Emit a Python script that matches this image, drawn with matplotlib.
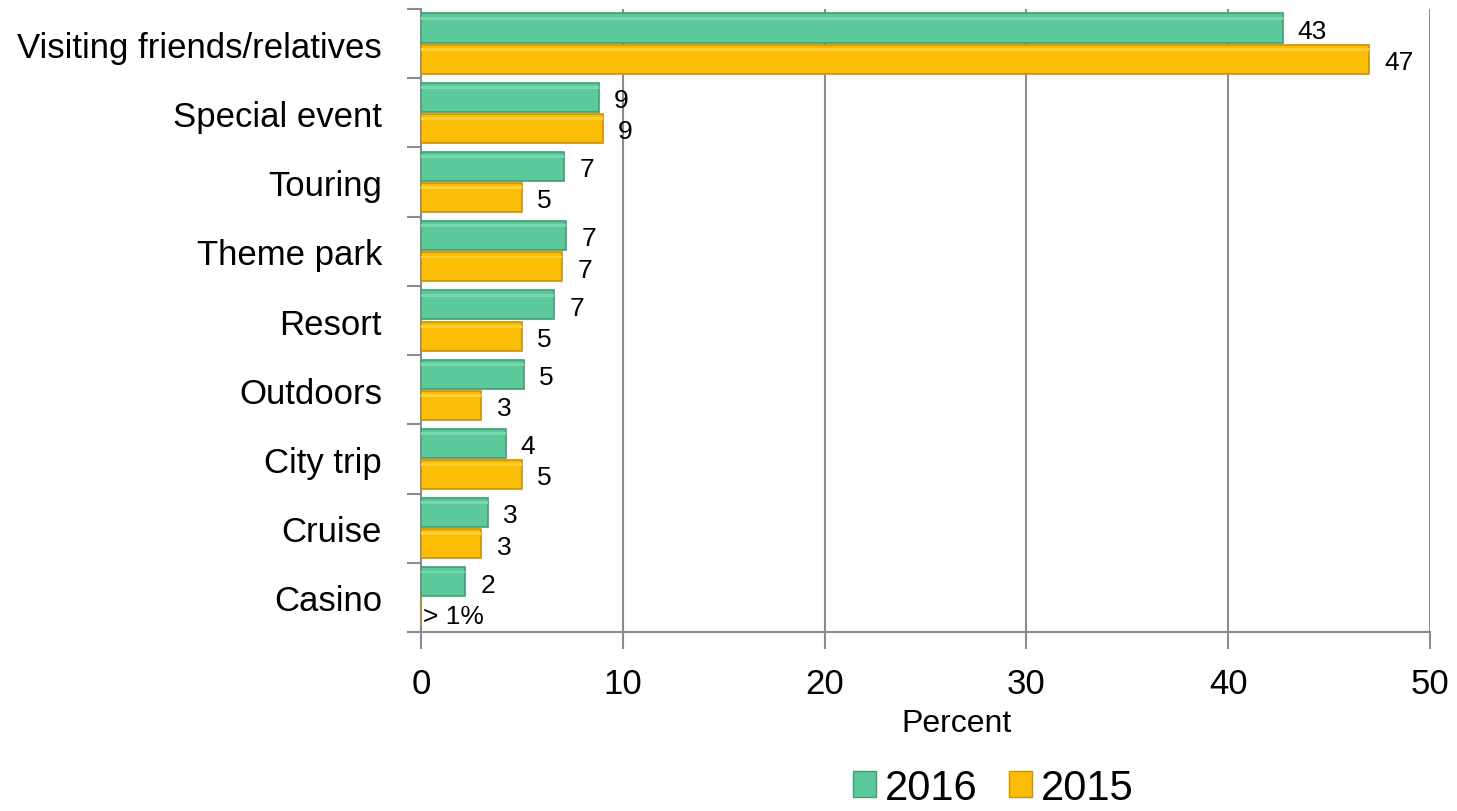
import numpy as np
import matplotlib
matplotlib.use("Agg")
import matplotlib.pyplot as plt
from matplotlib.patches import Patch

categories = ["Visiting friends/relatives", "Special event", "Touring", "Theme park",
              "Resort", "Outdoors", "City trip", "Cruise", "Casino"]
vals_2016 = [42.7, 8.8, 7.1, 7.2, 6.6, 5.1, 4.2, 3.3, 2.2]
vals_2015 = [47.0, 9.0, 5.0, 7.0, 5.0, 3.0, 5.0, 3.0, 0.0]
labels_2015 = [None] * 8 + ["> 1%"]   # casino share too small to show
xticks = [0, 10, 20, 30, 40, 50]

GREEN, GREEN_EDGE = "#5cc99a", "#3f9e74"
YELLOW, YELLOW_EDGE = "#fcbd07", "#c99400"
GRID = "#8c8c8c"

plt.rcParams["font.family"] = ["Liberation Sans", "DejaVu Sans"]

fig = plt.figure(figsize=(14.57, 8.12), dpi=100)
ax = fig.add_axes([0.2889, 0.2204, 0.6926, 0.7673])

y = np.arange(len(categories))
h = 0.42
off = 0.225

ax.barh(y - off, vals_2016, height=h, color=GREEN, edgecolor=GREEN_EDGE, lw=1.2, zorder=3)
ax.barh(y + off, vals_2015, height=h, color=YELLOW, edgecolor=YELLOW_EDGE, lw=1.2, zorder=3)
# soft light band near the top of each bar for a bevelled look
ax.barh(y - off - h * 0.34, vals_2016, height=h * 0.1, color="#7ad6ad", lw=0, zorder=4)
ax.barh(y + off - h * 0.34, vals_2015, height=h * 0.1, color="#ffcf33", lw=0, zorder=4)

lab_kw = dict(va="center", ha="left", fontsize=19)
for i, v in enumerate(vals_2016):
    ax.text(v + 0.75, y[i] - off + 0.04, f"{v:.0f}", **lab_kw)
for i, v in enumerate(vals_2015):
    if labels_2015[i] is None:
        ax.text(v + 0.75, y[i] + off + 0.04, f"{v:.0f}", **lab_kw)
    else:
        ax.text(0.1, y[i] + off + 0.04, labels_2015[i], **lab_kw)

ax.set_xlim(0, 50)
ax.set_ylim(len(categories) - 0.5, -0.5)
ax.set_xticks(xticks)
ax.set_yticks(y)
ax.set_yticklabels(categories, fontsize=25)
ax.set_yticks(np.arange(len(categories) + 1) - 0.5, minor=True)
ax.tick_params(axis="y", which="major", length=0, pad=28)
ax.tick_params(axis="y", which="minor", length=10, width=1.5, color=GRID)
ax.tick_params(axis="x", length=12, width=1.5, color=GRID, labelsize=25, pad=13)

ax.grid(axis="x", color=GRID, lw=1.5, zorder=0)
for s in ("top", "right"):
    ax.spines[s].set_visible(False)
for s in ("left", "bottom"):
    ax.spines[s].set_color(GRID)
    ax.spines[s].set_linewidth(1.5)

fig.text(957 / 1457, 1 - 724 / 812, "Percent", ha="center", va="center", fontsize=23)

handles = [Patch(facecolor=GREEN, edgecolor=GREEN_EDGE, label="2016"),
           Patch(facecolor=YELLOW, edgecolor=YELLOW_EDGE, label="2015")]
fig.legend(handles=handles, loc="center", bbox_to_anchor=(993 / 1457, 1 - 789 / 812),
           ncol=2, frameon=False, fontsize=30, handlelength=0.57, handleheight=0.57,
           handletextpad=0.2, columnspacing=0.75, borderpad=0)

fig.savefig("out.png", dpi=100)
